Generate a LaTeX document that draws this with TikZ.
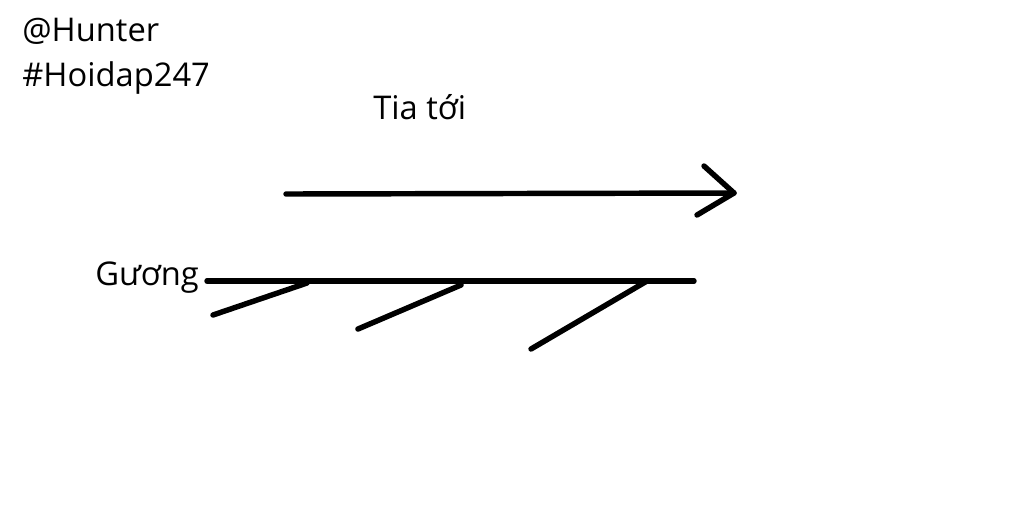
\documentclass[tikz,border=0pt]{standalone}
\usepackage{fontspec}
\setmainfont{Open Sans}
\begin{document}
\begin{tikzpicture}[x=0.02cm,y=-0.02cm,
    label text/.style={anchor=base west, inner sep=0pt, font=\fontsize{18.6}{21}\selectfont},
    stroke/.style={line width=3.1pt, line cap=round, line join=round}]
    % Page frame
    \useasboundingbox (0,0) rectangle (1024,529);
    
    % Signature
    \node[label text] (hunter) at (22,41) {@Hunter};
    \node[label text] (hoidap) at (22,86) {\#Hoidap247};
    
    % Incident ray
    \node[label text] (tia) at (373,119) {Tia tới};
    \coordinate (raystart) at (286,194);
    \coordinate (raytip) at (734,193);
    \coordinate (barbup) at (704,166);
    \coordinate (barbdown) at (697,215);
    \draw[stroke] (raystart) -- (raytip);
    \draw[stroke] (barbup) -- (raytip) -- (barbdown);
    
    % Mirror
    \node[label text] (guong) at (95,285) {Gương};
    \coordinate (mirrorleft) at (207,281);
    \coordinate (mirrorright) at (694,281);
    \draw[stroke] (mirrorleft) -- (mirrorright);
    
    % Hatch marks
    \coordinate (hatchA) at (307,283);
    \coordinate (hatchB) at (461,285);
    \coordinate (hatchC) at (647,281);
    \draw[stroke] (hatchA) -- (213,315);
    \draw[stroke] (hatchB) -- (358,329);
    \draw[stroke] (hatchC) -- (531,349);
\end{tikzpicture}
\end{document}
